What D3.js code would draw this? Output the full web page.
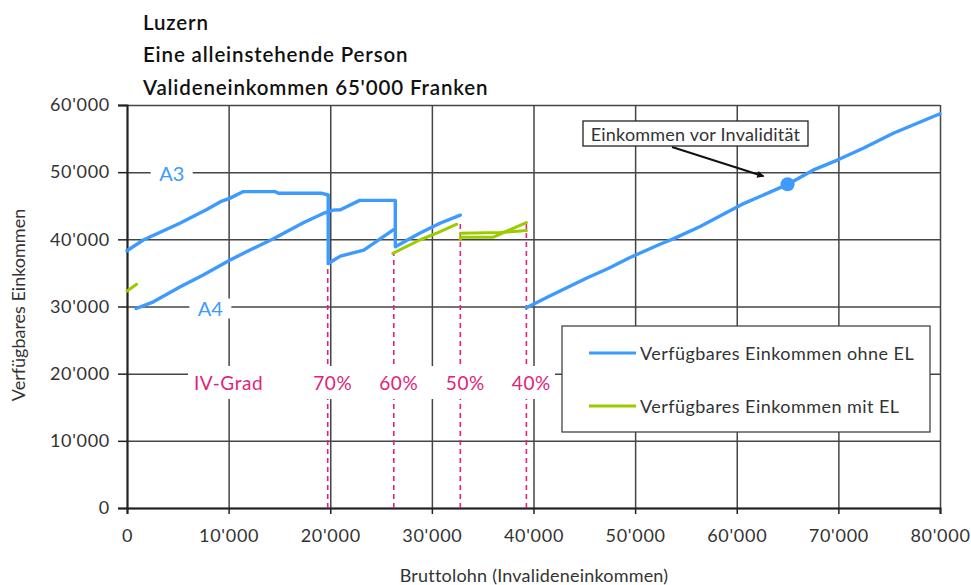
<!DOCTYPE html>
<html><head><meta charset="utf-8">
<script src="https://cdn.jsdelivr.net/npm/d3@7"></script>
<style>
body{margin:0;background:#fff;}
svg text{font-family:Lato,"Open Sans",sans-serif;}
</style></head>
<body><svg id="c" width="971" height="585"></svg>
<script>
const titleLines = ["Luzern","Eine alleinstehende Person","Valideneinkommen 65'000 Franken"];
const xTicks = [0,10000,20000,30000,40000,50000,60000,70000,80000];
const yTicks = [0,10000,20000,30000,40000,50000,60000];
const xLabel = "Bruttolohn (Invalideneinkommen)";
const yLabel = "Verfügbares Einkommen";
const seriesNames = ["Verfügbares Einkommen ohne EL","Verfügbares Einkommen mit EL"];

// Verfügbares Einkommen ohne EL (blue)
const ohneA3 = [[0,38300],[1600,39900],[5200,42400],[7800,44400],[9200,45600],[10100,46100],[11400,47100],[14600,47100],[14900,46850],[19200,46850],[19800,46600],[19800,36400],[21000,37500],[23300,38400],[26200,41400],[26400,41500]];
const ohneA4 = [[900,29700],[2600,30700],[5200,32900],[7500,34700],[10100,36900],[12100,38400],[14400,40100],[17400,42500],[19300,43850],[20300,44350],[21000,44400],[22900,45800],[26400,45800],[26400,38900],[28800,40900],[30800,42400],[32800,43600]];
const ohneHigh = [[39300,29800],[41600,31550],[45200,34200],[47400,35700],[49500,37300],[52500,39300],[53800,40100],[56400,41900],[59000,44000],[60500,45200],[64900,48100],[67500,50300],[69900,51800],[72500,53600],[75400,55800],[77700,57250],[80000,58700]];
// Verfügbares Einkommen mit EL (green)
const mit1 = [[0,32300],[950,33300]];
const mit2 = [[26150,37900],[28800,39900],[30600,41000],[32450,42250]];
const mit3 = [[32800,40900],[36700,41000],[39300,41300]];
const mit4 = [[32800,39950],[32800,40300],[36000,40300],[39300,42500]];
// IV-Grad
const ivX = [19750,26250,32800,39300];
const ivTop = [36400,38000,42500,42500];
const ivLabels = ["70%","60%","50%","40%"];
const curveLabels = [["A3",4400,49800],["A4",8200,29700]];
const valideneinkommen = [65000,48200];
const annotText = "Einkommen vor Invalidität";

const blue = "#3d9bff", green = "#9ccc00", pink = "#e0237a", grid = "#454545", txt = "#333";
const svg = d3.select("#c");
const x = d3.scaleLinear().domain([0,80000]).range([127,940]);
const y = d3.scaleLinear().domain([0,60000]).range([508,105]);
const loc = d3.formatLocale({decimal:".",thousands:"'",grouping:[3],currency:["",""]});
const fmt = loc.format(",");

// title
svg.append("g").selectAll("text").data(titleLines).join("text")
  .attr("x",143).attr("y",(d,i)=>29.5+i*32.5)
  .attr("font-size",20.5).attr("font-weight",600).attr("letter-spacing",0.85).attr("fill","#111").text(d=>d);

// grid
const gx = svg.append("g").attr("transform","translate(0,508)")
  .call(d3.axisBottom(x).tickValues(xTicks).tickSize(-403).tickFormat(""));
gx.selectAll("line").attr("stroke",grid).attr("stroke-width",1.5);
gx.select(".domain").remove();
const gy = svg.append("g").attr("transform","translate(127,0)")
  .call(d3.axisLeft(y).tickValues(yTicks).tickSize(-813).tickFormat(""));
gy.selectAll("line").attr("stroke",grid).attr("stroke-width",1.5);
gy.select(".domain").remove();

// axes
const ax = svg.append("g").attr("transform","translate(0,508)")
  .call(d3.axisBottom(x).tickValues(xTicks).tickSize(6).tickPadding(15).tickFormat(fmt));
ax.select(".domain").attr("stroke","#222").attr("stroke-width",2);
ax.selectAll("line").attr("stroke","#222").attr("stroke-width",1.5);
ax.selectAll("text").attr("font-size",18).attr("letter-spacing",0.7).attr("fill",txt).attr("font-family","Lato");
const ay = svg.append("g").attr("transform","translate(127,0)")
  .call(d3.axisLeft(y).tickValues(yTicks).tickSize(9).tickPadding(8).tickFormat(fmt));
ay.select(".domain").attr("stroke","#222").attr("stroke-width",2);
ay.selectAll("line").attr("stroke","#222").attr("stroke-width",1.5);
ay.selectAll("text").attr("font-size",18).attr("letter-spacing",0.7).attr("fill",txt).attr("font-family","Lato");

svg.append("text").attr("x",534).attr("y",582).attr("text-anchor","middle")
  .attr("font-size",18).attr("letter-spacing",0.2).attr("fill",txt).text(xLabel);
svg.append("text").attr("transform","translate(25,305) rotate(-90)").attr("text-anchor","middle")
  .attr("font-size",18).attr("fill",txt).text(yLabel);

// IV-Grad dashed lines
svg.append("g").selectAll("line").data(ivX).join("line")
  .attr("x1",d=>x(d)).attr("x2",d=>x(d)).attr("y1",y(0)).attr("y2",(d,i)=>y(ivTop[i]))
  .attr("stroke",pink).attr("stroke-width",1.6).attr("stroke-dasharray","5,4");

// label background + labels
svg.append("rect").attr("x",188).attr("y",366).attr("width",367).attr("height",33).attr("fill","#fff");
svg.append("text").attr("x",x(10000)).attr("y",390).attr("text-anchor","middle")
  .attr("font-size",19).attr("letter-spacing",0.6).attr("fill",pink).text("IV-Grad");
svg.append("g").selectAll("text").data(ivLabels).join("text")
  .attr("x",(d,i)=>x(ivX[i])+5).attr("y",390).attr("text-anchor","middle")
  .attr("font-size",19).attr("letter-spacing",0.6).attr("fill",pink).text(d=>d);

// lines
const line = d3.line().x(d=>x(d[0])).y(d=>y(d[1]));
[ohneA3,ohneA4,ohneHigh].forEach(s=>svg.append("path").datum(s).attr("d",line)
  .attr("fill","none").attr("stroke",blue).attr("stroke-width",3.4).attr("stroke-linejoin","round").attr("stroke-linecap","round"));
[mit1,mit2,mit3,mit4].forEach(s=>svg.append("path").datum(s).attr("d",line)
  .attr("fill","none").attr("stroke",green).attr("stroke-width",3).attr("stroke-linejoin","round").attr("stroke-linecap","round"));

// curve labels
curveLabels.forEach(([t,vx,vy])=>{
  svg.append("rect").attr("x",x(vx)-21).attr("y",y(vy)-10).attr("width",42).attr("height",20).attr("fill","#fff");
  svg.append("text").attr("x",x(vx)).attr("y",y(vy)+7).attr("text-anchor","middle")
    .attr("font-size",20).attr("fill",blue).text(t);
});

// annotation
const dx = x(valideneinkommen[0]), dy = y(valideneinkommen[1]);
svg.append("defs").append("marker").attr("id","ah").attr("viewBox","0 0 10 10")
  .attr("refX",9).attr("refY",5).attr("markerWidth",9).attr("markerHeight",7).attr("orient","auto")
  .attr("markerUnits","userSpaceOnUse")
  .append("path").attr("d","M0,0L10,5L0,10z").attr("fill","#111");
svg.append("line").attr("x1",672).attr("y1",147).attr("x2",dx-24).attr("y2",dy-8)
  .attr("stroke","#111").attr("stroke-width",2).attr("marker-end","url(#ah)");
svg.append("rect").attr("x",583).attr("y",121).attr("width",225).attr("height",25)
  .attr("fill","#fff").attr("stroke","#222").attr("stroke-width",1.3);
svg.append("text").attr("x",695.5).attr("y",140.5).attr("text-anchor","middle")
  .attr("font-size",18).attr("letter-spacing",0.2).attr("fill",txt).text(annotText);
svg.append("circle").attr("cx",dx).attr("cy",dy).attr("r",7).attr("fill",blue);

// legend
const lg = svg.append("g");
lg.append("rect").attr("x",562).attr("y",326).attr("width",368).attr("height",106)
  .attr("fill","#fff").attr("stroke","#444").attr("stroke-width",1.3);
[blue,green].forEach((c,i)=>{
  const ly = 353 + i*53;
  lg.append("line").attr("x1",589).attr("x2",636).attr("y1",ly).attr("y2",ly).attr("stroke",c).attr("stroke-width",3);
  lg.append("text").attr("x",640).attr("y",ly+6.5).attr("font-size",18).attr("letter-spacing",0.45).attr("fill",txt).text(seriesNames[i]);
});
</script></body></html>
